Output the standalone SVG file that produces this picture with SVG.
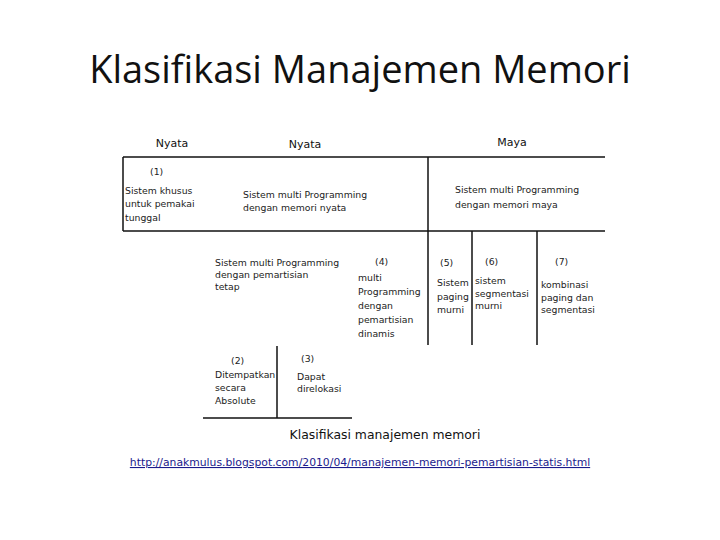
<svg xmlns="http://www.w3.org/2000/svg" width="720" height="540" viewBox="0 0 720 540">
<style>
.t{font-family:"DejaVu Sans","Liberation Sans",sans-serif;font-size:9.3px;fill:#222}
.h{font-family:"DejaVu Sans","Liberation Sans",sans-serif;font-size:11px;fill:#111}
.ln{stroke:#111;stroke-width:1.5;fill:none}
</style>
<rect width="720" height="540" fill="#fff"/>
<text x="360" y="83" text-anchor="middle" font-family="'Open Sans','Noto Sans',sans-serif" font-size="38" fill="#111">Klasifikasi Manajemen Memori</text>
<g id="connectors">
<line class="ln" x1="123" y1="157" x2="605" y2="157"/>
<line class="ln" x1="123" y1="157" x2="123" y2="231"/>
<line class="ln" x1="123" y1="231" x2="605" y2="231"/>
<line class="ln" x1="428" y1="157" x2="428" y2="345"/>
<line class="ln" x1="472" y1="231" x2="472" y2="345"/>
<line class="ln" x1="537" y1="231" x2="537" y2="345"/>
<line class="ln" x1="277" y1="346" x2="277" y2="418"/>
<line class="ln" x1="203" y1="418" x2="352" y2="418"/>
</g>
<g id="header-nyata1"><text class="h" x="172" y="147" text-anchor="middle">Nyata</text></g>
<g id="header-nyata2"><text class="h" x="305" y="148" text-anchor="middle">Nyata</text></g>
<g id="header-maya"><text class="h" x="512" y="146" text-anchor="middle">Maya</text></g>
<g id="node1">
<text class="t" x="150" y="175">(1)</text>
<text class="t" x="125" y="194">Sistem khusus</text>
<text class="t" x="125" y="207">untuk pemakai</text>
<text class="t" x="125" y="221">tunggal</text>
</g>
<g id="node-nyata">
<text class="t" x="243" y="198">Sistem multi Programming</text>
<text class="t" x="243" y="211">dengan memori nyata</text>
</g>
<g id="node-maya">
<text class="t" x="455" y="193">Sistem multi Programming</text>
<text class="t" x="455" y="208">dengan memori maya</text>
</g>
<g id="node-tetap">
<text class="t" x="215" y="266">Sistem multi Programming</text>
<text class="t" x="215" y="278">dengan pemartisian</text>
<text class="t" x="215" y="290">tetap</text>
</g>
<g id="node4">
<text class="t" x="375" y="265">(4)</text>
<text class="t" x="358" y="281">multi</text>
<text class="t" x="358" y="295">Programming</text>
<text class="t" x="358" y="309">dengan</text>
<text class="t" x="358" y="323">pemartisian</text>
<text class="t" x="358" y="337">dinamis</text>
</g>
<g id="node5">
<text class="t" x="440" y="266">(5)</text>
<text class="t" x="437" y="286">Sistem</text>
<text class="t" x="437" y="300">paging</text>
<text class="t" x="437" y="313">murni</text>
</g>
<g id="node6">
<text class="t" x="485" y="265">(6)</text>
<text class="t" x="475" y="284">sistem</text>
<text class="t" x="475" y="297">segmentasi</text>
<text class="t" x="475" y="309">murni</text>
</g>
<g id="node7">
<text class="t" x="555" y="265">(7)</text>
<text class="t" x="541" y="288">kombinasi</text>
<text class="t" x="541" y="301">paging dan</text>
<text class="t" x="541" y="313">segmentasi</text>
</g>
<g id="node2">
<text class="t" x="231" y="364">(2)</text>
<text class="t" x="215" y="378">Ditempatkan</text>
<text class="t" x="215" y="391">secara</text>
<text class="t" x="215" y="404">Absolute</text>
</g>
<g id="node3">
<text class="t" x="301" y="362">(3)</text>
<text class="t" x="297" y="380">Dapat</text>
<text class="t" x="297" y="392">direlokasi</text>
</g>
<g id="caption"><text x="385" y="439" text-anchor="middle" font-family="'DejaVu Sans',sans-serif" font-size="12.4" fill="#111">Klasifikasi manajemen memori</text></g>
<g id="link"><text x="360" y="466" text-anchor="middle" font-family="'DejaVu Sans',sans-serif" font-size="10.8" fill="#1a1a8c" text-decoration="underline">http://anakmulus.blogspot.com/2010/04/manajemen-memori-pemartisian-statis.html</text></g>
</svg>
